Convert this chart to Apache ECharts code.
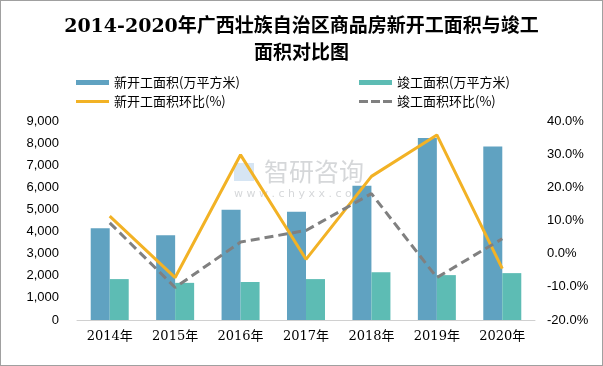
<!DOCTYPE html>
<html><head><meta charset="utf-8">
<script src="https://cdn.jsdelivr.net/npm/echarts@6/dist/echarts.min.js"></script>
<style>html,body{margin:0;padding:0;background:#fff}#c{width:603px;height:366px;box-sizing:border-box;border:1px solid #a0a0a0}</style>
</head><body><div id="c"></div>
<script>
const categories = ['2014年','2015年','2016年','2017年','2018年','2019年','2020年'];
const newStart = [4150, 3830, 4990, 4900, 6070, 8230, 7850];
const completed = [1850, 1680, 1720, 1850, 2160, 2030, 2120];
const newStartRate = [11.3, -7.2, 29.8, -1.7, 23.3, 35.8, -4.5];
const completedRate = [9.3, -10.2, 3.5, 7.0, 18.1, -7.2, 4.5];
const names = ['新开工面积(万平方米)','竣工面积(万平方米)','新开工面积环比(%)','竣工面积环比(%)'];

const chart = echarts.init(document.getElementById('c'));
const lblFont = {fontFamily:'Liberation Sans, Arial', fontSize:13, color:'#000'};
const legText = {fontFamily:'Noto Sans CJK SC', fontSize:13, color:'#000'};
function leg(name, left, top, icon, h){
  return {data:[{name:name, icon:icon}], left:left, top:top, itemWidth:33, itemHeight:h,
          textStyle:legText, padding:0, itemGap:0};
}
const dashIcon = 'path://M0,0h9v3h-9z M12,0h9v3h-9z M24,0h9v3h-9z';
chart.setOption({
  animation:false,
  title:{
    text:'2014-2020年广西壮族自治区商品房新开工面积与竣工\n面积对比图',
    left:'center', top:8,
    textStyle:{fontFamily:'DejaVu Serif, Noto Sans CJK SC', fontWeight:'bold', fontSize:19, lineHeight:27, color:'#000'}
  },
  legend:[
    leg(names[0], 75, 75, 'rect', 5),
    leg(names[1], 358, 75, 'rect', 5),
    leg(names[2], 75, 94, 'rect', 3),
    leg(names[3], 358, 94, dashIcon, 3)
  ],
  grid:{left:76, right:67, top:120, bottom:45},
  xAxis:{
    type:'category', data:categories,
    axisLine:{lineStyle:{color:'#d0d0d0'}}, axisTick:{show:false},
    axisLabel:{fontFamily:'DejaVu Serif, Noto Sans CJK SC', fontSize:13, color:'#000', margin:10}
  },
  yAxis:[
    {type:'value', min:0, max:9000, interval:1000, splitLine:{show:false},
     axisLabel:Object.assign({margin:18, formatter:v=>v.toLocaleString('en-US')}, lblFont)},
    {type:'value', min:-20, max:40, interval:10, splitLine:{show:false},
     axisLabel:Object.assign({margin:12, formatter:v=>v.toFixed(1)+'%'}, lblFont)}
  ],
  graphic:[
    {type:'text', left:263, top:158, z:0, style:{text:'智研咨询', font:'25px Noto Sans CJK SC', fill:'rgba(150,155,160,0.4)'}},
    {type:'text', left:233, top:188, z:0, style:{text:'w w w . c h y x x . c o m', font:'11px DejaVu Sans', fill:'rgba(150,155,160,0.4)'}},
    {type:'rect', z:0, shape:{x:233, y:162, width:20, height:18}, style:{fill:'rgba(120,170,215,0.3)'}}
  ],
  series:[
    {name:names[0], type:'bar', data:newStart, barWidth:19, barGap:'0%', itemStyle:{color:'#60a2c1'}},
    {name:names[1], type:'bar', data:completed, barWidth:19, itemStyle:{color:'#5dbcb4'}},
    {name:names[2], type:'line', yAxisIndex:1, data:newStartRate, symbol:'none', lineStyle:{color:'#f2b225', width:3}, itemStyle:{color:'#f2b225'}},
    {name:names[3], type:'line', yAxisIndex:1, data:completedRate, symbol:'none', lineStyle:{color:'#808080', width:3, type:[9,5]}, itemStyle:{color:'#808080'}}
  ]
});
</script></body></html>
